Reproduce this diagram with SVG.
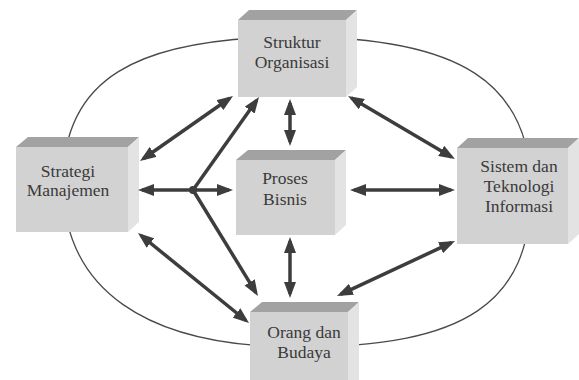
<svg xmlns="http://www.w3.org/2000/svg" width="579" height="380" viewBox="0 0 579 380">
  <style>
    .front { fill: #d2d2d2; }
    .top { fill: #a2a2a2; }
    .side { fill: #e3e3e3; }
    .label { font-family: "Liberation Serif", "Times New Roman", serif; font-size: 17.5px; fill: #3a3a3a; text-anchor: middle; }
    .ring { fill: none; stroke: #4a4a4a; stroke-width: 1.3; }
    .arrow { fill: none; stroke: #3d3d3d; stroke-width: 3.5; }
    .both { marker-start: url(#head); marker-end: url(#head); }
    .one { marker-end: url(#head); }
  </style>
  <defs>
    <marker id="head" viewBox="0 0 16 12" markerWidth="16" markerHeight="12" refX="12" refY="6" orient="auto-start-reverse" markerUnits="userSpaceOnUse">
      <path d="M0,0 L16,6 L0,12 z" fill="#3d3d3d"/>
    </marker>
  </defs>

  <rect width="579" height="380" fill="#ffffff"/>

  <!-- outer ring behind the blocks -->
  <path class="ring" d="M63,182 C63,81 133,37 296,37 C460,37 531,83 531,190 C531,303 466,347 298,347 C145,347 63,289 63,182 Z"/>

  <g id="struktur-organisasi">
    <path class="top" d="M238,20 L249,10 L357,10 L346,20 Z"/>
    <path class="side" d="M346,20 L357,10 L357,87 L346,97 Z"/>
    <rect class="front" x="238" y="20" width="108" height="77"/>
    <text class="label" x="292" y="48">Struktur</text>
    <text class="label" x="292" y="68">Organisasi</text>
  </g>

  <g id="strategi-manajemen">
    <path class="top" d="M16,147 L28,137 L139,137 L128,147 Z"/>
    <path class="side" d="M128,147 L139,137 L139,222 L128,232 Z"/>
    <rect class="front" x="16" y="147" width="112" height="85"/>
    <text class="label" x="68" y="177">Strategi</text>
    <text class="label" x="68" y="196">Manajemen</text>
  </g>

  <g id="sistem-teknologi-informasi">
    <path class="top" d="M457,148 L468,138 L579,138 L568,148 Z"/>
    <path class="side" d="M568,148 L579,138 L579,234 L568,244 Z"/>
    <rect class="front" x="457" y="148" width="111" height="96"/>
    <text class="label" x="519" y="172">Sistem dan</text>
    <text class="label" x="519" y="192">Teknologi</text>
    <text class="label" x="519" y="212">Informasi</text>
  </g>

  <g id="proses-bisnis">
    <path class="top" d="M236,160 L248,150 L346,150 L335,160 Z"/>
    <path class="side" d="M335,160 L346,150 L346,225 L335,235 Z"/>
    <rect class="front" x="236" y="160" width="99" height="75"/>
    <text class="label" x="285" y="184">Proses</text>
    <text class="label" x="285" y="205">Bisnis</text>
  </g>

  <g id="orang-budaya">
    <path class="top" d="M250,312 L262,302 L359,302 L348,312 Z"/>
    <path class="side" d="M348,312 L359,302 L359,380 L348,380 Z"/>
    <rect class="front" x="250" y="312" width="98" height="70"/>
    <text class="label" x="304" y="338">Orang dan</text>
    <text class="label" x="304" y="358">Budaya</text>
  </g>

  <g id="connectors">
    <line class="arrow both" x1="229.7" y1="98.3" x2="143.3" y2="158.7"/>
    <line class="arrow both" x1="290" y1="103" x2="290" y2="142"/>
    <line class="arrow both" x1="351.5" y1="98" x2="451.5" y2="157"/>
    <line class="arrow both" x1="142" y1="190" x2="229" y2="190"/>
    <line class="arrow one" x1="193" y1="190" x2="256.7" y2="100.3"/>
    <line class="arrow one" x1="193" y1="190" x2="255.9" y2="292.6"/>
    <line class="arrow both" x1="141.1" y1="235.5" x2="245.9" y2="320.5"/>
    <line class="arrow both" x1="290" y1="241" x2="290" y2="294"/>
    <line class="arrow both" x1="354" y1="190" x2="451" y2="190"/>
    <line class="arrow both" x1="451.4" y1="242.7" x2="340.6" y2="294.3"/>
    <circle cx="193" cy="190" r="4" fill="#3d3d3d"/>
  </g>
</svg>
